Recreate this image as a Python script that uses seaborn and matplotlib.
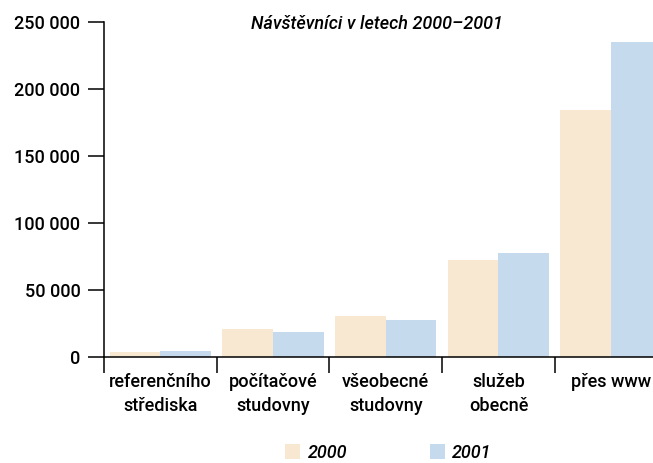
import seaborn as sns
import pandas as pd
import matplotlib.pyplot as plt
from matplotlib.ticker import FuncFormatter, FixedLocator

# kategorie a hodnoty
kategorie = ['referenčního\nstřediska', 'počítačové\nstudovny', 'všeobecné\nstudovny',
             'služeb\nobecně', 'přes www']
roky = ['2000', '2001']
navstevy_2000 = [3700, 20900, 30600, 72400, 184300]
navstevy_2001 = [4500, 18700, 27600, 77600, 235000]
barvy = ['#F9E8D1', '#C6DAEE']

df = pd.DataFrame({
    'kategorie': kategorie * 2,
    'rok': [roky[0]] * len(kategorie) + [roky[1]] * len(kategorie),
    'navstevy': navstevy_2000 + navstevy_2001,
})

sns.set_style('white')
plt.rcParams['font.family'] = ['Roboto', 'DejaVu Sans']
plt.rcParams['font.weight'] = 'medium'
plt.rcParams['font.size'] = 13
plt.rcParams['text.color'] = 'black'
plt.rcParams['xtick.color'] = 'black'
plt.rcParams['ytick.color'] = 'black'

fig = plt.figure(figsize=(6.53, 4.63), dpi=100)
ax = fig.add_axes([104 / 653, 1 - 356.7 / 463, 549 / 653, (356.7 - 21.7) / 463])

sns.barplot(data=df, x='kategorie', y='navstevy', hue='rok', palette=barvy,
            width=0.9, saturation=1, linewidth=0, errorbar=None, ax=ax)

ax.set_ylim(0, 250000)
ax.set_xlim(-0.5, -0.5 + 549 / 112.7)
ax.set_xlabel('')
ax.set_ylabel('')
ax.yaxis.set_major_formatter(FuncFormatter(lambda v, p: f'{int(v):,}'.replace(',', ' ')))
ax.set_yticks([0, 50000, 100000, 150000, 200000, 250000])

ax.xaxis.set_minor_locator(FixedLocator([-0.5, 0.5, 1.5, 2.5, 3.5]))
ax.tick_params(axis='x', which='both', bottom=True)
ax.tick_params(axis='x', which='major', length=0, pad=12, labelsize=13)
ax.tick_params(axis='x', which='minor', length=11.5, width=1.1, color='black', direction='out')
ax.tick_params(axis='y', left=True, length=11.5, width=1.1, color='black', pad=5.5,
               labelsize=13, direction='out')
for lab in ax.get_xticklabels():
    lab.set_linespacing(1.4)

for s in ['top', 'right']:
    ax.spines[s].set_visible(False)
for s in ['left', 'bottom']:
    ax.spines[s].set_color('black')
    ax.spines[s].set_linewidth(1.1)

ax.text(0.497, 250000, 'Návštěvníci v letech 2000–2001', style='italic', fontsize=13,
        ha='center', va='center_baseline', transform=ax.get_yaxis_transform())

sns.move_legend(ax, 'center', bbox_to_anchor=(0.595, 0.022), bbox_transform=fig.transFigure,
                ncol=2, frameon=False, title=None, handlelength=0.83, handleheight=0.83,
                handletextpad=0.4, columnspacing=4.6,
                prop={'style': 'italic', 'size': 13, 'weight': 'medium'})

plt.savefig('out.png', dpi=100)
